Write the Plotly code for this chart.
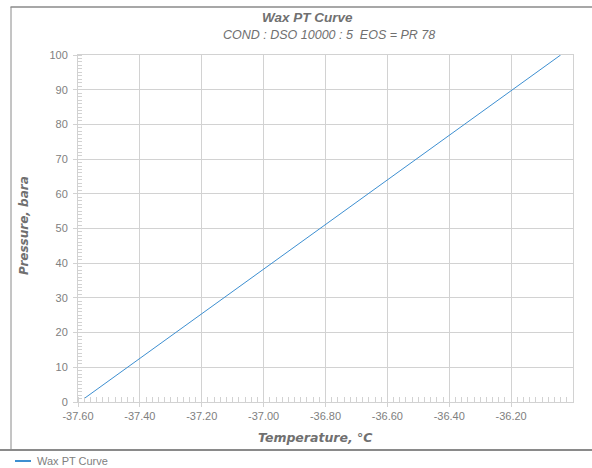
import plotly.graph_objects as go

# Data
temperature_c = [-37.580, -37.440, -37.284, -37.129, -36.973, -36.818,
                 -36.662, -36.506, -36.351, -36.195, -36.040]
pressure_bara = [1, 10, 20, 30, 40, 50, 60, 70, 80, 90, 100]
x_tick_vals = [-37.6, -37.4, -37.2, -37.0, -36.8, -36.6, -36.4, -36.2]
x_tick_text = ["-37.60", "-37.40", "-37.20", "-37.00", "-36.80", "-36.60", "-36.40", "-36.20"]
y_tick_vals = [0, 10, 20, 30, 40, 50, 60, 70, 80, 90, 100]
series_name = "Wax PT Curve"

W, H = 592, 468
L, R, T, B = 78, 573, 55, 402  # plot area in pixels
pw, ph = R - L, B - T

def px(x):
    return (x - L) / pw

def py(y):
    return (B - y) / ph

FONT = "Liberation Sans, Arial, sans-serif"
WIDE = "DejaVu Sans, Verdana, sans-serif"
GRAY = "#808080"
TGRAY = "#707070"
GRID = "#d2d2d2"
LINE = "#3d8fd1"
FRAME = "#8a8a8a"

fig = go.Figure()
fig.add_trace(go.Scatter(
    x=temperature_c, y=pressure_bara, mode="lines", name=series_name,
    line=dict(color=LINE, width=1), showlegend=False,
))

fig.update_layout(
    width=W, height=H,
    margin=dict(l=L, r=W - R, t=T, b=H - B, autoexpand=False),
    paper_bgcolor="white", plot_bgcolor="white",
    font=dict(family=FONT, size=11, color=GRAY),
    showlegend=False,
    annotations=[
        dict(text="<b><i>Wax PT Curve</i></b>", x=px(307), y=py(17), xref="paper", yref="paper",
             showarrow=False, font=dict(size=13.5, color=TGRAY, family=FONT), xanchor="center", yanchor="middle"),
        dict(text="<i>COND : DSO 10000 : 5  EOS = PR 78</i>", x=px(329), y=py(35), xref="paper", yref="paper",
             showarrow=False, font=dict(size=12.5, color=TGRAY, family=FONT), xanchor="center", yanchor="middle"),
        dict(text="<b><i>Temperature, °C</i></b>", x=px(315), y=py(437), xref="paper", yref="paper",
             showarrow=False, font=dict(size=12.5, color=TGRAY, family=WIDE), xanchor="center", yanchor="middle"),
        dict(text="<b><i>Pressure, bara</i></b>", x=px(24), y=py(226), xref="paper", yref="paper",
             showarrow=False, textangle=-90, font=dict(size=12, color=TGRAY, family=WIDE),
             xanchor="center", yanchor="middle"),
        dict(text=series_name, x=px(35), y=py(461), xref="paper", yref="paper",
             showarrow=False, font=dict(size=11, color=GRAY, family=FONT), xanchor="left", yanchor="middle"),
    ],
    shapes=[
        dict(type="line", xref="paper", yref="paper", x0=px(11), x1=px(11), y0=py(450), y1=py(7),
             line=dict(color=FRAME, width=1)),
        dict(type="line", xref="paper", yref="paper", x0=px(10.5), x1=px(600), y0=py(7), y1=py(7),
             line=dict(color=FRAME, width=1.5)),
        dict(type="line", xref="paper", yref="paper", x0=px(0), x1=px(600), y0=py(450), y1=py(450),
             line=dict(color=FRAME, width=2)),
        dict(type="line", xref="paper", yref="paper", x0=px(15), x1=px(31), y0=py(461), y1=py(461),
             line=dict(color=LINE, width=2)),
    ],
)

fig.update_xaxes(
    range=[-37.6, -36.0], tickvals=x_tick_vals, ticktext=x_tick_text,
    showgrid=True, gridcolor=GRID, gridwidth=1,
    showline=True, linecolor=GRID, linewidth=1, mirror=True,
    ticks="outside", ticklen=4, tickcolor=GRID, zeroline=False,
    tickfont=dict(size=11, color=GRAY),
    minor=dict(dtick=0.02, ticks="inside", ticklen=5, tickcolor=GRID, showgrid=False),
)
fig.update_yaxes(
    range=[0, 100], tickvals=y_tick_vals,
    showgrid=True, gridcolor=GRID, gridwidth=1,
    showline=True, linecolor=GRID, linewidth=1, mirror=True,
    ticks="outside", ticklen=4, tickcolor=GRID, zeroline=False,
    ticklabelstandoff=3,
    tickfont=dict(size=11, color=GRAY),
    minor=dict(dtick=1, ticks="inside", ticklen=4, tickcolor=GRID, showgrid=False),
)

fig.write_html("out.html", config={"displayModeBar": False},
               post_script="document.body.style.margin='0';document.body.style.overflow='hidden';window.scrollTo(0,0);")
